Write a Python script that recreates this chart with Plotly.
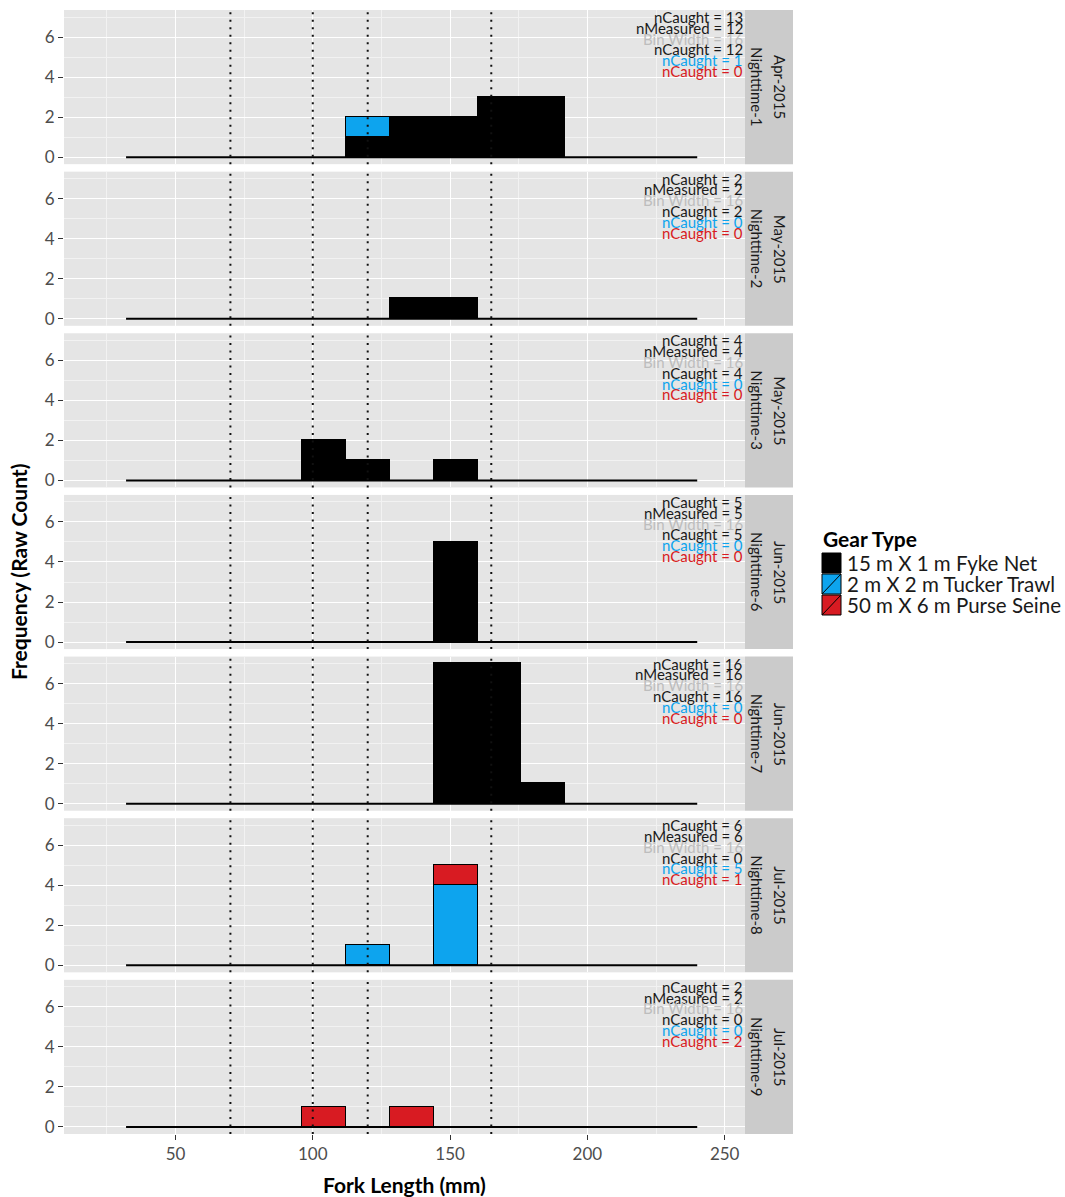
import numpy as np
import plotly.graph_objects as go

# ---- histogram bins (mm) ----
BIN_START = 32
BIN_WIDTH = 16
N_BINS = 13
bin_edges = BIN_START + BIN_WIDTH * np.arange(N_BINS + 1)
bin_mids = bin_edges[:-1] + BIN_WIDTH / 2

# ---- facets ----
months = ["Apr-2015", "May-2015", "May-2015", "Jun-2015", "Jun-2015", "Jul-2015", "Jul-2015"]
nights = ["Nighttime-1", "Nighttime-2", "Nighttime-3", "Nighttime-6", "Nighttime-7", "Nighttime-8", "Nighttime-9"]

# counts per bin (bins 32-48 ... 224-240) for each gear type
fyke_counts = [
    [0, 0, 0, 0, 0, 1, 2, 2, 3, 3, 0, 0, 0],
    [0, 0, 0, 0, 0, 0, 1, 1, 0, 0, 0, 0, 0],
    [0, 0, 0, 0, 2, 1, 0, 1, 0, 0, 0, 0, 0],
    [0, 0, 0, 0, 0, 0, 0, 5, 0, 0, 0, 0, 0],
    [0, 0, 0, 0, 0, 0, 0, 7, 7, 1, 0, 0, 0],
    [0, 0, 0, 0, 0, 0, 0, 0, 0, 0, 0, 0, 0],
    [0, 0, 0, 0, 0, 0, 0, 0, 0, 0, 0, 0, 0],
]
tucker_counts = [
    [0, 0, 0, 0, 0, 1, 0, 0, 0, 0, 0, 0, 0],
    [0, 0, 0, 0, 0, 0, 0, 0, 0, 0, 0, 0, 0],
    [0, 0, 0, 0, 0, 0, 0, 0, 0, 0, 0, 0, 0],
    [0, 0, 0, 0, 0, 0, 0, 0, 0, 0, 0, 0, 0],
    [0, 0, 0, 0, 0, 0, 0, 0, 0, 0, 0, 0, 0],
    [0, 0, 0, 0, 0, 1, 0, 4, 0, 0, 0, 0, 0],
    [0, 0, 0, 0, 0, 0, 0, 0, 0, 0, 0, 0, 0],
]
purse_counts = [
    [0, 0, 0, 0, 0, 0, 0, 0, 0, 0, 0, 0, 0],
    [0, 0, 0, 0, 0, 0, 0, 0, 0, 0, 0, 0, 0],
    [0, 0, 0, 0, 0, 0, 0, 0, 0, 0, 0, 0, 0],
    [0, 0, 0, 0, 0, 0, 0, 0, 0, 0, 0, 0, 0],
    [0, 0, 0, 0, 0, 0, 0, 0, 0, 0, 0, 0, 0],
    [0, 0, 0, 0, 0, 0, 0, 1, 0, 0, 0, 0, 0],
    [0, 0, 0, 0, 1, 0, 1, 0, 0, 0, 0, 0, 0],
]

# summary text per facet
n_caught = [13, 2, 4, 5, 16, 6, 2]
n_measured = [12, 2, 4, 5, 16, 6, 2]
caught_fyke = [12, 2, 4, 5, 16, 0, 0]
caught_tucker = [1, 0, 0, 0, 0, 5, 0]
caught_purse = [0, 0, 0, 0, 0, 1, 2]

gear_names = ["15 m X 1 m Fyke Net", "2 m X 2 m Tucker Trawl", "50 m X 6 m Purse Seine"]
gear_colors = ["#000000", "#0DA4EE", "#D81B22"]

ref_lengths = [70, 100, 120, 165]

x_ticks = [50, 100, 150, 200, 250]
y_ticks = [0, 2, 4, 6]

# ---- page geometry (pixels) ----
W, H = 1065, 1197
PX_L, PX_R = 64, 745
STRIP_R = 793
TOP, BOTTOM, GAP = 10, 1134, 7.5
n_panels = len(months)
ph = (BOTTOM - TOP - GAP * (n_panels - 1)) / n_panels
X_RANGE = [9.4, 257.4]
Y_RANGE = [-0.35, 7.35]

FONT = "Lato"
TXT = "#1A1A1A"
AX_TXT = "#4D4D4D"


def px_x(p):
    return p / W


def px_y(p):
    return 1 - p / H


fig = go.Figure()
layout = dict(
    width=W, height=H,
    margin=dict(l=0, r=0, t=0, b=0),
    paper_bgcolor="white",
    plot_bgcolor="#E5E5E5",
    barmode="stack",
    bargap=0,
    showlegend=False,
    font=dict(family=FONT, color=TXT),
)
shapes = []
annotations = []

for i in range(n_panels):
    sfx = "" if i == 0 else str(i + 1)
    xa, ya = "x" + sfx, "y" + sfx
    top_px = TOP + i * (ph + GAP)
    bot_px = top_px + ph
    last = i == n_panels - 1

    layout["xaxis" + sfx] = dict(
        domain=[px_x(PX_L), px_x(PX_R)], anchor=ya, range=X_RANGE,
        tickvals=x_ticks, showticklabels=last,
        ticks="outside" if last else "", ticklen=5, tickwidth=1, tickcolor="#333333",
        tickfont=dict(family=FONT, size=17, color=AX_TXT),
        showgrid=True, gridcolor="white", gridwidth=1.4,
        minor=dict(dtick=25, tick0=0, showgrid=True, gridcolor="#F2F2F2", gridwidth=0.7, ticks=""),
        zeroline=False, showline=False, automargin=False,
        matches=None if i == 0 else "x",
    )
    layout["yaxis" + sfx] = dict(
        domain=[px_y(bot_px), px_y(top_px)], anchor=xa, range=Y_RANGE,
        tickvals=y_ticks, ticks="outside", ticklen=5, tickwidth=1, tickcolor="#333333",
        tickfont=dict(family=FONT, size=17, color=AX_TXT),
        showgrid=True, gridcolor="white", gridwidth=1.4,
        minor=dict(dtick=1, tick0=0, showgrid=True, gridcolor="#F2F2F2", gridwidth=0.7, ticks=""),
        zeroline=False, showline=False, automargin=False,
    )

    # stacked histogram bars: fyke at the bottom, tucker, then purse seine
    for counts, name, col in zip(
        (fyke_counts[i], tucker_counts[i], purse_counts[i]), gear_names, gear_colors
    ):
        c = np.asarray(counts)
        nz = c > 0
        if nz.any():
            fig.add_trace(go.Bar(
                x=bin_mids[nz], y=c[nz], width=BIN_WIDTH, name=name,
                marker=dict(color=col, line=dict(color="black", width=1.3)),
                xaxis=xa, yaxis=ya, hoverinfo="x+y+name",
            ))

    # empty bins show as a flat outline along zero
    fig.add_trace(go.Scatter(
        x=[bin_edges[0], bin_edges[-1]], y=[0, 0], mode="lines",
        line=dict(color="black", width=2), xaxis=xa, yaxis=ya, hoverinfo="skip",
    ))

    # dotted reference lengths
    for r in ref_lengths:
        shapes.append(dict(
            type="line", xref=xa, yref=ya + " domain", x0=r, x1=r, y0=0, y1=1,
            line=dict(color="#111111", width=2, dash="2px,5.5px"), layer="above",
        ))

    # facet strip on the right
    shapes.append(dict(
        type="rect", xref="paper", yref="paper",
        x0=px_x(PX_R), x1=px_x(STRIP_R), y0=px_y(bot_px), y1=px_y(top_px),
        fillcolor="#CBCBCB", line=dict(width=0), layer="below",
    ))
    mid_px = (top_px + bot_px) / 2
    annotations.append(dict(
        xref="paper", yref="paper", x=px_x(780), y=px_y(mid_px), text=months[i],
        textangle=90, showarrow=False, font=dict(family=FONT, size=15, color=TXT),
        xanchor="center", yanchor="middle",
    ))
    annotations.append(dict(
        xref="paper", yref="paper", x=px_x(757), y=px_y(mid_px), text=nights[i],
        textangle=90, showarrow=False, font=dict(family=FONT, size=15, color=TXT),
        xanchor="center", yanchor="middle",
    ))

    # summary text block in the upper-right corner
    lines = [
        (f"nCaught = {n_caught[i]}", TXT),
        (f"nMeasured = {n_measured[i]}", TXT),
        (f"Bin Width = {BIN_WIDTH}", "#BDBDBD"),
        (f"nCaught = {caught_fyke[i]}", TXT),
        (f"nCaught = {caught_tucker[i]}", gear_colors[1]),
        (f"nCaught = {caught_purse[i]}", gear_colors[2]),
    ]
    for k, (t, col) in enumerate(lines):
        annotations.append(dict(
            xref=xa, yref=ya, x=X_RANGE[1], y=7.0 - 0.54 * k, text=t,
            showarrow=False, xanchor="right", yanchor="middle",
            font=dict(family=FONT, size=15, color=col),
        ))

# axis titles
annotations.append(dict(
    xref="paper", yref="paper", x=px_x(18), y=px_y(572), text="<b>Frequency (Raw Count)</b>",
    textangle=-90, showarrow=False, font=dict(family=FONT, size=21, color="black"),
    xanchor="center", yanchor="middle",
))
annotations.append(dict(
    xref="paper", yref="paper", x=px_x((PX_L + PX_R) / 2), y=px_y(1184),
    text="<b>Fork Length (mm)</b>", showarrow=False,
    font=dict(family=FONT, size=21, color="black"), xanchor="center", yanchor="middle",
))

# gear-type legend
annotations.append(dict(
    xref="paper", yref="paper", x=px_x(821), y=px_y(538), text="<b>Gear Type</b>",
    showarrow=False, font=dict(family=FONT, size=21, color="black"),
    xanchor="left", yanchor="middle",
))
KEY_L, KEY_R, KEY_TOP, KEY_H = 822, 841, 553, 21
for k, (name, col) in enumerate(zip(gear_names, gear_colors)):
    t = KEY_TOP + k * KEY_H
    b = t + KEY_H - 1
    shapes.append(dict(
        type="rect", xref="paper", yref="paper",
        x0=px_x(KEY_L), x1=px_x(KEY_R), y0=px_y(b), y1=px_y(t),
        fillcolor=col, line=dict(color="black", width=1),
    ))
    if k > 0:
        shapes.append(dict(
            type="line", xref="paper", yref="paper",
            x0=px_x(KEY_L), x1=px_x(KEY_R), y0=px_y(b), y1=px_y(t),
            line=dict(color="black", width=1),
        ))
    annotations.append(dict(
        xref="paper", yref="paper", x=px_x(KEY_R + 4), y=px_y((t + b) / 2), text=name,
        showarrow=False, font=dict(family=FONT, size=20.5, color=TXT),
        xanchor="left", yanchor="middle",
    ))

layout["shapes"] = shapes
layout["annotations"] = annotations
fig.update_layout(**layout)
fig.write_html("out.html")
